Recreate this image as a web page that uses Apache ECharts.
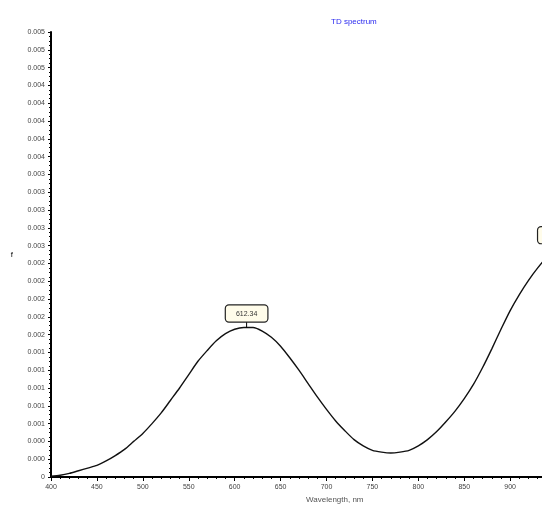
<!DOCTYPE html>
<html>
<head>
<meta charset="utf-8">
<script src="https://cdn.jsdelivr.net/npm/echarts@6/dist/echarts.min.js"></script>
<style>html,body{margin:0;padding:0;background:#fff;overflow:hidden}#c{width:602px;height:508px}</style>
</head>
<body>
<div id="c"></div>
<script>
// Wavelength (nm)
var wavelengths = [400,410,420,430,440,450,460,470,480,490,500,510,520,530,540,550,560,570,580,590,600,610,620,630,640,650,660,670,680,690,700,710,720,730,740,750,760,770,780,790,800,810,820,830,840,850,860,870,880,890,900,910,920,930,940,950,955,960,970,980];
// Oscillator strength f
var strengths = [0.00001,0.00002,0.00004,0.00007,0.0001,0.00013,0.00018,0.00024,0.00031,0.0004,0.00049,0.0006,0.00072,0.00086,0.001,0.00115,0.0013,0.00142,0.00153,0.00161,0.00166,0.00168,0.00168,0.00164,0.00157,0.00147,0.00134,0.0012,0.00105,0.0009,0.00076,0.00063,0.00052,0.00042,0.00035,0.0003,0.00028,0.00027,0.00028,0.0003,0.00035,0.00042,0.00051,0.00062,0.00074,0.00088,0.00104,0.00123,0.00144,0.00166,0.00187,0.00205,0.00221,0.00235,0.00247,0.00254,0.00256,0.00255,0.0025,0.0024];
// Peak annotations
var peakWavelengths = [613, 953];
var peakValues = [0.00168, 0.00256];
var peakLabels = ["612.34", "953.12"];
var titleText = "TD spectrum";
var xName = "Wavelength, nm";
var yName = "f";

var chart = echarts.init(document.getElementById('c'));
var lineData = wavelengths.map(function(w,i){return [w, strengths[i]];});
var mp = peakWavelengths.map(function(w,i){
  return {coord:[w, peakValues[i]], value: peakLabels[i]};
});
chart.setOption({
  animation:false,
  backgroundColor:'#fff',
  title:{text:titleText, left:326, top:13, textStyle:{color:'#2b2bf0', fontSize:8, fontWeight:'normal', fontFamily:'Liberation Sans'}},
  grid:{left:51, right:0, top:32, bottom:31, containLabel:false},
  xAxis:{type:'value', min:400, max:1000, interval:50,
    axisLine:{lineStyle:{color:'#000', width:2}},
    axisTick:{show:true, length:4, lineStyle:{color:'#000'}},
    minorTick:{show:true, splitNumber:5, length:2, lineStyle:{color:'#000'}},
    splitLine:{show:false},
    axisLabel:{fontSize:7, color:'#444', margin:7, fontFamily:'Liberation Sans', showMaxLabel:false}
  },
  yAxis:{type:'value', min:0, max:0.005, interval:0.0002,
    name:yName, nameLocation:'middle', nameGap:38, nameRotate:0,
    nameTextStyle:{fontSize:8, color:'#000', fontFamily:'Liberation Sans'},
    axisLine:{show:true, lineStyle:{color:'#000', width:2}},
    axisTick:{show:true, length:3, lineStyle:{color:'#000'}},
    minorTick:{show:true, splitNumber:4, length:2, lineStyle:{color:'#000'}},
    splitLine:{show:false},
    axisLabel:{fontSize:7, color:'#444', margin:6, fontFamily:'Liberation Sans',
      formatter:function(v){return v===0?'0':v.toFixed(3);}}
  },
  graphic:[{type:'text', left:306, top:496, style:{text:xName, fontSize:8, fill:'#555', fontFamily:'Liberation Sans'}}],
  series:[{
    type:'line', data:lineData, smooth:0.25, showSymbol:false, clip:true,
    lineStyle:{color:'#111', width:1.4},
    markPoint:{
      symbol:'rect', symbolSize:[1,6], symbolOffset:[0,-3],
      itemStyle:{color:'#000'},
      label:{show:true, position:'top', distance:0,
        formatter:function(p){return p.value;},
        fontSize:7, color:'#333', fontFamily:'Liberation Sans',
        backgroundColor:'#fffcea', borderColor:'#222', borderWidth:1.2, borderRadius:3,
        padding:[5,10,4,10]},
      data:mp
    }
  }]
});
</script>
</body>
</html>
